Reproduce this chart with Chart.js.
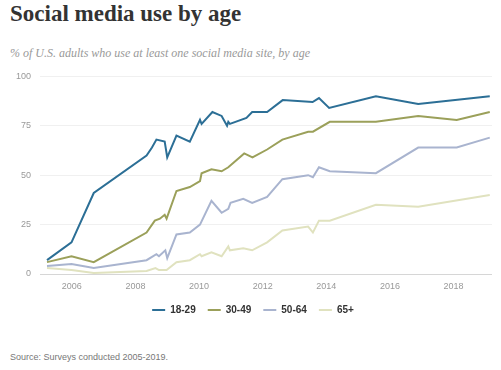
<!DOCTYPE html>
<html>
<head>
<meta charset="utf-8">
<script src="https://cdn.jsdelivr.net/npm/chart.js@4/dist/chart.umd.min.js"></script>
<style>
  html, body { margin: 0; padding: 0; background: #fff; }
  body { width: 501px; height: 370px; position: relative; overflow: hidden; }
  #title { position: absolute; left: 10px; top: 0px; font-family: "Liberation Serif", serif; font-weight: bold; font-size: 23px; color: #333; line-height: 27px; white-space: nowrap; }
  #subtitle { position: absolute; left: 10px; top: 46px; font-family: "Liberation Serif", serif; font-style: italic; font-size: 12px; color: #999; line-height: 15px; white-space: nowrap; }
  #source { position: absolute; left: 10px; top: 351px; font-family: "Liberation Sans", Arial, sans-serif; font-size: 9px; color: #777; line-height: 12px; white-space: nowrap; }
  #wrap { position: absolute; left: 0; top: 62px; width: 501px; height: 263px; }
</style>
</head>
<body>
<div id="title">Social media use by age</div>
<div id="subtitle">% of U.S. adults who use at least one social media site, by age</div>
<div id="wrap"><canvas id="c"></canvas></div>
<div id="source">Source: Surveys conducted 2005-2019.</div>
<script>
const seriesNames = ["18-29", "30-49", "50-64", "65+"];
const yTicks = [0, 25, 50, 75, 100];
const xTickYears = [2006, 2008, 2010, 2012, 2014, 2016, 2018];

const years18 = [2005.22, 2005.99, 2006.69, 2008.35, 2008.52, 2008.66, 2008.92, 2009.0, 2009.29, 2009.71, 2010.03, 2010.08, 2010.42, 2010.71, 2010.88, 2010.92, 2010.97, 2011.49, 2011.67, 2012.14, 2012.63, 2013.57, 2013.77, 2014.09, 2015.56, 2016.89, 2019.14];
const vals18  = [7, 16, 41, 60, 64, 68, 67, 59, 70, 67, 78, 76, 82, 80, 75, 77, 76, 79, 82, 82, 88, 87, 89, 84, 90, 86, 90];

const years30 = [2005.22, 2005.99, 2006.69, 2008.35, 2008.61, 2008.77, 2008.92, 2008.98, 2009.29, 2009.71, 2010.03, 2010.08, 2010.39, 2010.71, 2010.92, 2011.42, 2011.68, 2012.14, 2012.62, 2013.43, 2013.58, 2014.11, 2015.56, 2016.89, 2018.10, 2019.14];
const vals30  = [6, 9, 6, 21, 27, 28, 30, 28, 42, 44, 47, 51, 53, 52, 54, 61, 59, 63, 68, 72, 72, 77, 77, 80, 78, 82];

const years50 = [2005.22, 2005.99, 2006.69, 2008.35, 2008.66, 2008.74, 2008.94, 2009.0, 2009.29, 2009.71, 2010.03, 2010.39, 2010.71, 2010.92, 2010.99, 2011.39, 2011.67, 2012.14, 2012.62, 2013.43, 2013.58, 2013.77, 2014.11, 2015.56, 2016.89, 2018.10, 2019.14];
const vals50  = [4, 5, 3, 7, 10, 9, 12, 8, 20, 21, 25, 37, 31, 33, 36, 38, 36, 39, 48, 50, 49, 54, 52, 51, 64, 64, 69];

const years65 = [2005.22, 2005.99, 2006.69, 2008.35, 2008.63, 2008.74, 2008.98, 2009.29, 2009.71, 2010.03, 2010.08, 2010.39, 2010.71, 2010.92, 2010.97, 2011.39, 2011.67, 2012.14, 2012.62, 2013.43, 2013.58, 2013.77, 2014.11, 2015.56, 2016.89, 2019.14];
const vals65  = [3, 2, 0.5, 1.5, 3, 2, 2, 6, 7, 10, 9, 11, 9, 14, 12, 13, 12, 16, 22, 24, 21, 27, 27, 35, 34, 40];

const colors = ["#2c6f96", "#9ba05a", "#a9b4cf", "#e0e2bf"];

function pts(xs, ys) { return xs.map((x, i) => ({ x: x, y: ys[i] })); }
const allYears = [years18, years30, years50, years65];
const allVals = [vals18, vals30, vals50, vals65];

const datasets = seriesNames.map((n, i) => ({
  label: n,
  data: pts(allYears[i], allVals[i]),
  borderColor: colors[i],
  backgroundColor: colors[i],
  borderWidth: 2,
  pointRadius: 0,
  pointHoverRadius: 0,
  tension: 0,
  order: i
}));

new Chart(document.getElementById('c'), {
  type: 'line',
  data: { datasets: datasets },
  options: {
    responsive: true,
    maintainAspectRatio: false,
    animation: false,
    layout: { padding: { top: 9, right: 9, left: 14, bottom: 0 } },
    plugins: {
      tooltip: { enabled: false },
      legend: {
        position: 'bottom',
        labels: {
          usePointStyle: true,
          pointStyle: 'line',
          pointStyleWidth: 13,
          boxWidth: 13,
          boxHeight: 10,
          padding: 12,
          color: '#333',
          font: { family: '"Liberation Sans", Arial, sans-serif', size: 10, weight: 'bold' }
        }
      }
    },
    scales: {
      x: {
        type: 'linear',
        min: 2005,
        max: 2019.21,
        afterBuildTicks: (scale) => { scale.ticks = xTickYears.map(v => ({ value: v })); },
        afterFit: (scale) => { scale.height = 19; },
        ticks: {
          color: '#999',
          padding: 7,
          font: { family: '"Liberation Sans", Arial, sans-serif', size: 9 },
          callback: (v) => String(v),
          maxRotation: 0
        },
        grid: { display: false, drawTicks: false },
        border: { display: false }
      },
      y: {
        min: 0,
        max: 100,
        afterBuildTicks: (scale) => { scale.ticks = yTicks.map(v => ({ value: v })); },
        afterFit: (scale) => { scale.width = 26; },
        ticks: {
          color: '#999',
          padding: 9,
          font: { family: '"Liberation Sans", Arial, sans-serif', size: 9 }
        },
        grid: {
          color: (ctx) => ctx.tick && ctx.tick.value === 0 ? '#d6d6d6' : '#f0f0f0',
          lineWidth: 1,
          drawTicks: false
        },
        border: { display: false }
      }
    }
  }
});
</script>
</body>
</html>
